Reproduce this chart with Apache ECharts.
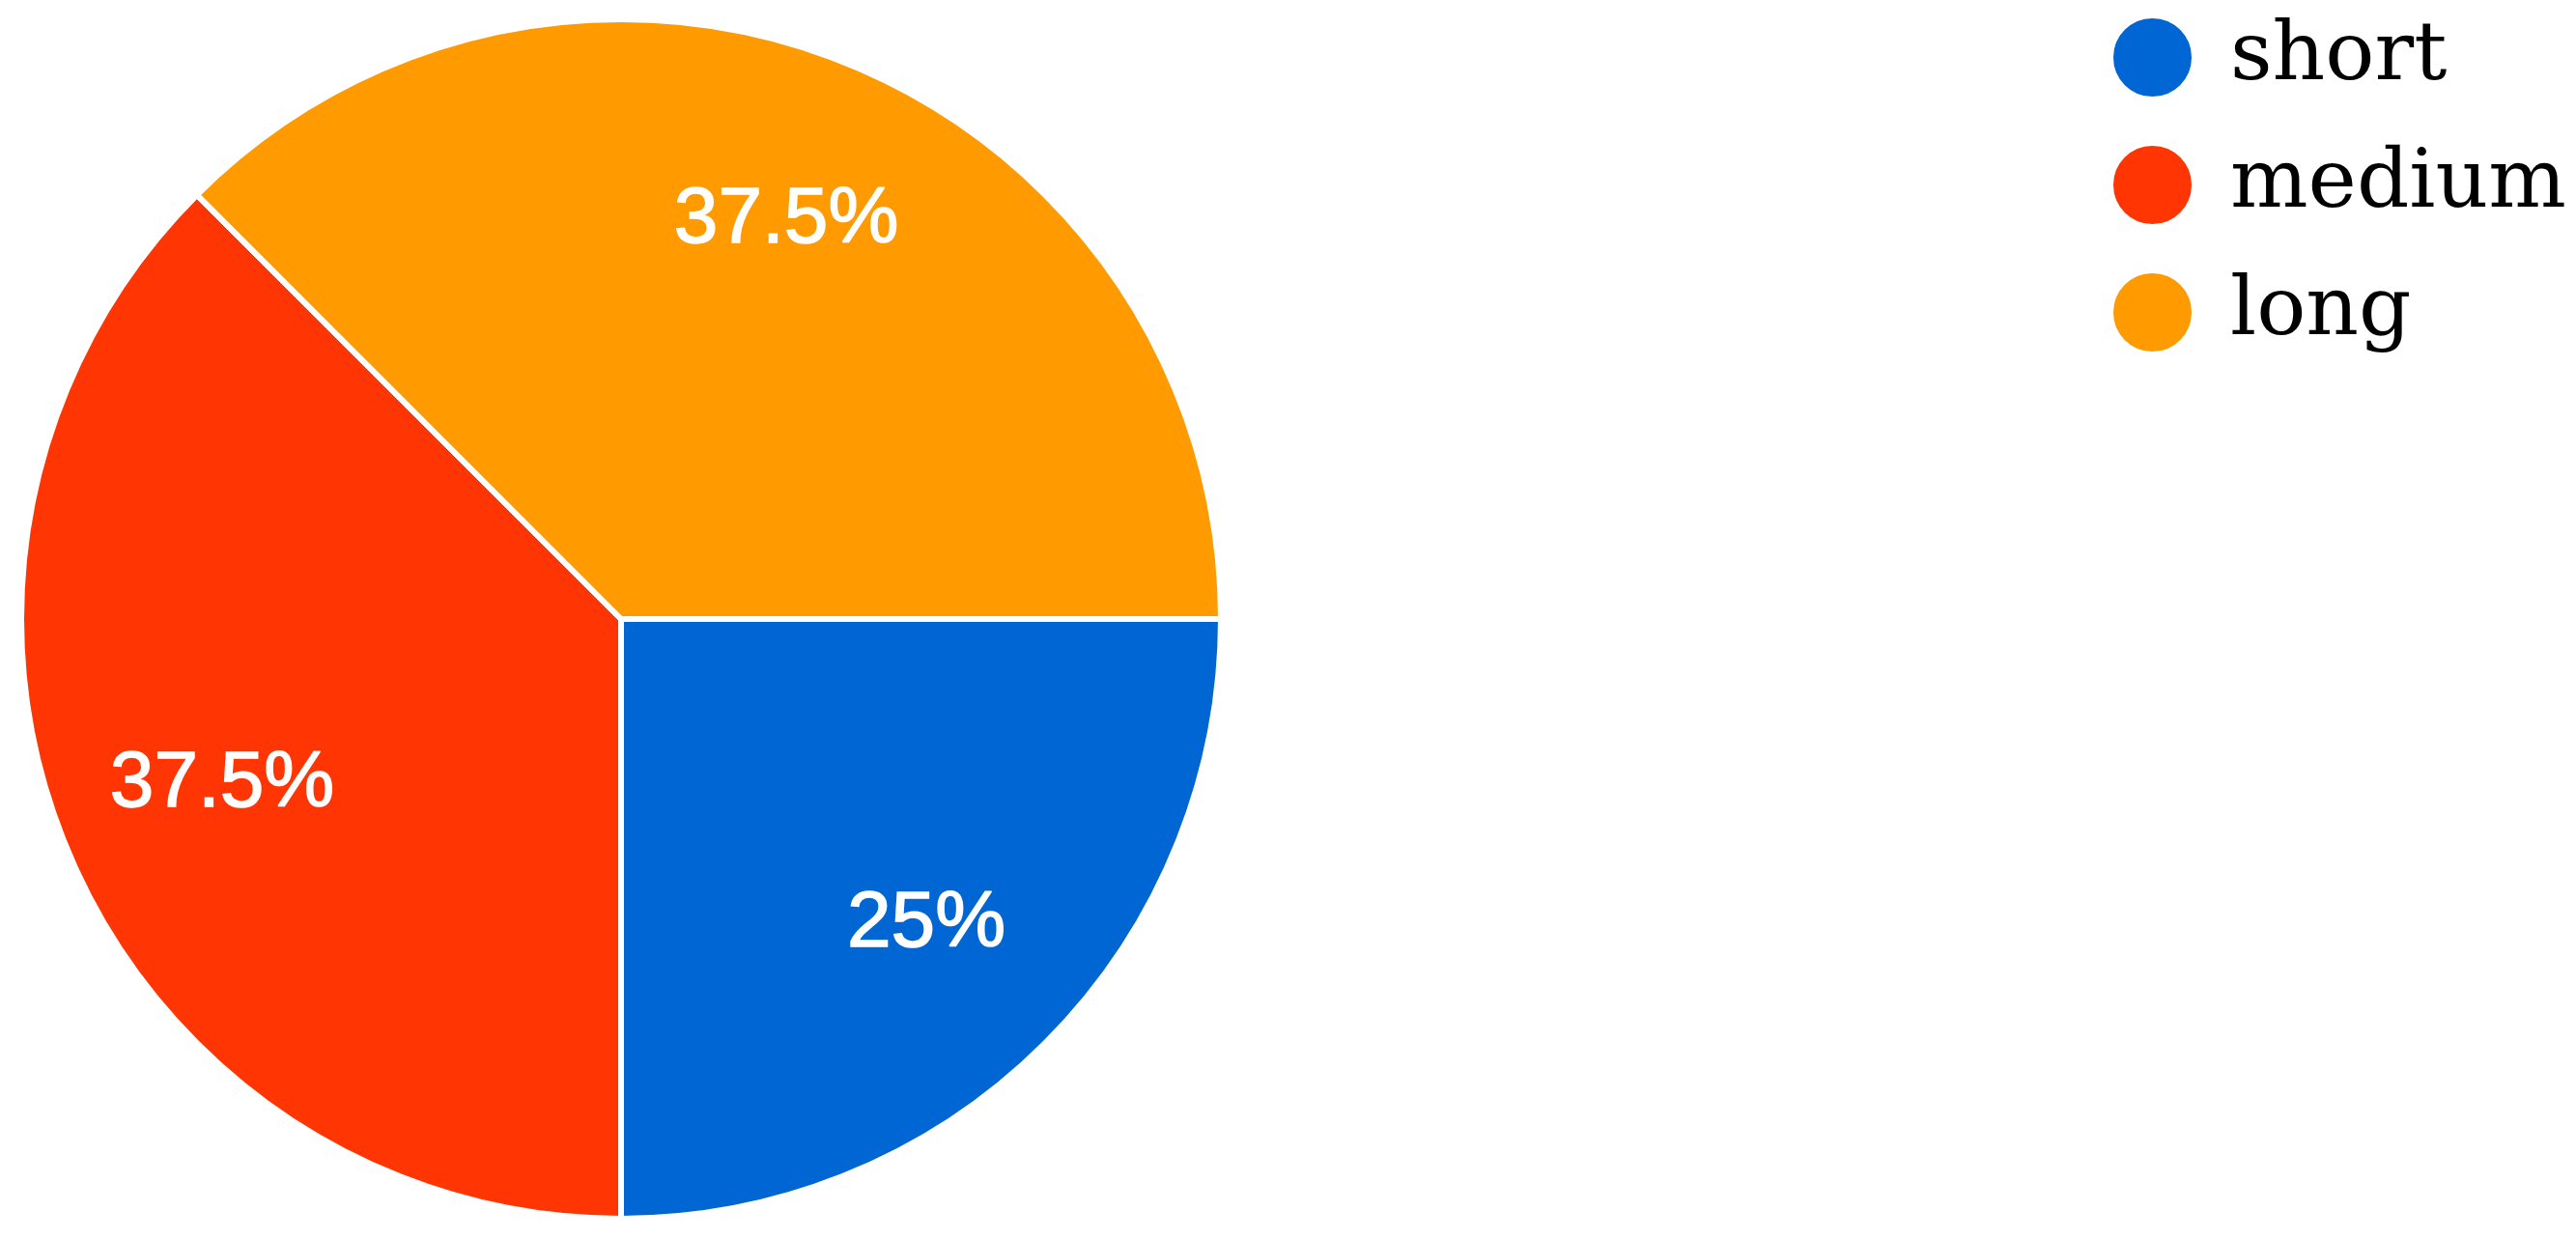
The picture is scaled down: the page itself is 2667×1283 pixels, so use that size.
<!DOCTYPE html>
<html>
<head>
<meta charset="utf-8">
<script src="https://cdn.jsdelivr.net/npm/echarts@6/dist/echarts.min.js"></script>
<style>
  html, body { margin: 0; padding: 0; background: #fff; }
  #main { width: 2667px; height: 1283px; }
</style>
</head>
<body>
<div id="main"></div>
<script>
const categories = ['short', 'medium', 'long'];
const values = [25, 37.5, 37.5];
const colors = ['#0066d3', '#ff3503', '#ff9b00'];

const chart = echarts.init(document.getElementById('main'));

const pieData = categories.map((name, i) => ({
    name: name,
    value: values[i],
    itemStyle: { color: colors[i] }
}));

const option = {
    animation: false,
    legend: {
        orient: 'vertical',
        left: 2181,
        top: 5,
        icon: 'circle',
        itemWidth: 83,
        itemHeight: 83,
        itemGap: 33,
        data: categories,
        textStyle: {
            fontFamily: 'DejaVu Serif',
            fontSize: 85,
            lineHeight: 83,
            color: '#000',
            padding: [16, 0, 0, 34]
        }
    },
    series: [
        {
            type: 'pie',
            center: [643, 641],
            radius: [0, 621],
            startAngle: 0,
            clockwise: true,
            silent: true,
            label: { show: false },
            labelLine: { show: false },
            itemStyle: { borderColor: '#fff', borderWidth: 6 },
            data: pieData
        },
        {
            // transparent ring, only used to put the labels further out
            type: 'pie',
            center: [643, 641],
            radius: [267, 621],
            startAngle: 0,
            clockwise: true,
            silent: true,
            legendHoverLink: false,
            itemStyle: { color: 'rgba(0,0,0,0)' },
            label: {
                show: true,
                position: 'inside',
                formatter: p => p.value + '%',
                color: '#fff',
                fontFamily: 'Liberation Sans',
                fontSize: 82,
                textBorderColor: '#fff',
                textBorderWidth: 1.5
            },
            labelLine: { show: false },
            data: categories.map((name, i) => ({ name: name + ' ', value: values[i] }))
        }
    ]
};

chart.setOption(option);
</script>
</body>
</html>
